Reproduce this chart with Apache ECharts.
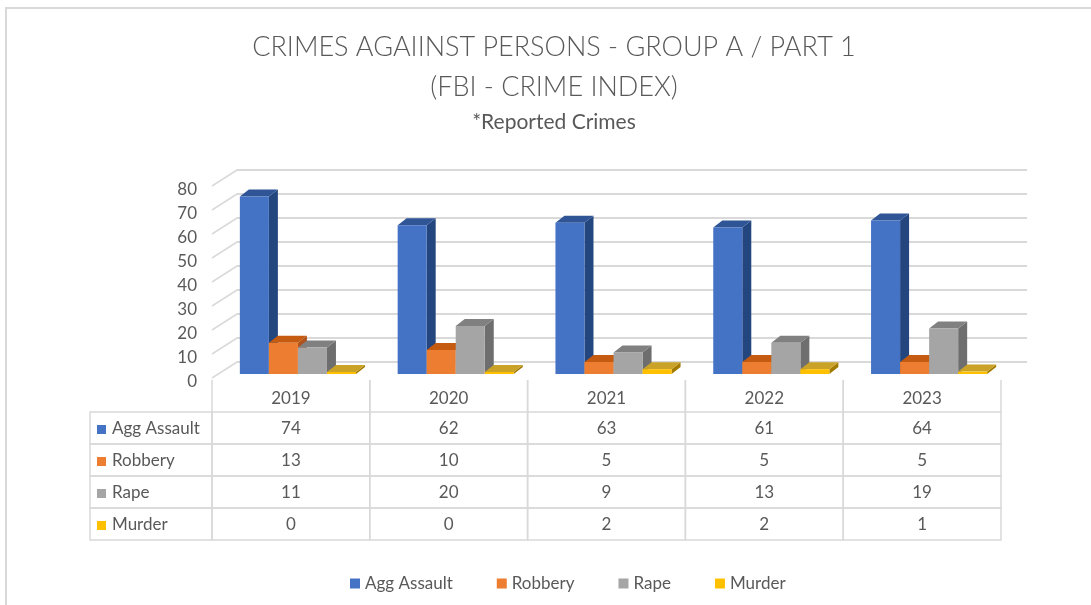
<!DOCTYPE html>
<html>
<head>
<meta charset="utf-8">
<script src="https://cdn.jsdelivr.net/npm/echarts@6/dist/echarts.min.js"></script>
<style>
html,body{margin:0;padding:0;background:#fff;}
#chart{width:1091px;height:605px;}
</style>
</head>
<body>
<div id="chart"></div>
<script>
const years = ['2019', '2020', '2021', '2022', '2023'];
const seriesNames = ['Agg Assault', 'Robbery', 'Rape', 'Murder'];
const aggAssault = [74, 62, 63, 61, 64];
const robbery = [13, 10, 5, 5, 5];
const rape = [11, 20, 9, 13, 19];
const murder = [0, 0, 2, 2, 1];
const yTicks = [0, 10, 20, 30, 40, 50, 60, 70, 80];
const titleLines = ['CRIMES AGAIINST PERSONS - GROUP A / PART 1', '(FBI - CRIME INDEX)'];
const subtitle = '*Reported Crimes';

const seriesValues = [aggAssault, robbery, rape, murder];
const FONT = 'Lato, "Open Sans", sans-serif';
const TXT = '#595959';
const faceColors = [
  { front: '#4472C4', side: '#24467E', top: '#2F5597' },
  { front: '#ED7D31', side: '#B0521A', top: '#C55A11' },
  { front: '#A5A5A5', side: '#6E6E6E', top: '#808080' },
  { front: '#FFC000', side: '#A37B00', top: '#C9A227' }
];
const DX = 9, DY = -7;

const chart = echarts.init(document.getElementById('chart'));

function barRenderer(si) {
  return function (params, api) {
    const c = api.value(0), v = api.value(1);
    const p = api.coord([c, v]);
    const b = api.coord([c, 0]);
    const band = api.size([1, 0])[0];
    const w = band * 0.184;
    const x0 = p[0] - band * 0.5 * 0.735 + band * 0.044 + si * w;
    const x1 = x0 + w;
    const yb = b[1];
    let yt = p[1];
    if (yb - yt < 2) yt = yb - 2;
    const col = faceColors[si];
    return {
      type: 'group',
      children: [
        { type: 'polygon', shape: { points: [[x1, yt], [x1 + DX, yt + DY], [x1 + DX, yb + DY], [x1, yb]] }, style: { fill: col.side } },
        { type: 'polygon', shape: { points: [[x0, yt], [x0 + DX, yt + DY], [x1 + DX, yt + DY], [x1, yt]] }, style: { fill: col.top } },
        { type: 'rect', shape: { x: x0, y: yt, width: w, height: yb - yt }, style: { fill: col.front } }
      ]
    };
  };
}

const barSeries = seriesNames.map((name, si) => ({
  name: name,
  type: 'custom',
  xAxisIndex: 0,
  yAxisIndex: 0,
  itemStyle: { color: faceColors[si].front },
  renderItem: barRenderer(si),
  clip: false,
  data: seriesValues[si].map((v, c) => [c, v]),
  z: 10 + si
}));

const tableData = [];
years.forEach((y, c) => {
  tableData.push([c, 0, y]);
  seriesValues.forEach((arr, si) => tableData.push([c, si + 1, String(arr[c])]));
});
const nameData = seriesNames.map((n, si) => [0, si + 1, n]);
const LINE = '#D9D9D9';

const option = {
  animation: false,
  backgroundColor: '#ffffff',
  title: {
    text: titleLines.join('\n'),
    subtext: subtitle,
    left: 549,
    textAlign: 'center',
    top: 22,
    itemGap: 4,
    textStyle: { fontFamily: FONT, fontSize: 27, fontWeight: 300, color: TXT, lineHeight: 40 },
    subtextStyle: { fontFamily: FONT, fontSize: 21, color: TXT, lineHeight: 22 }
  },
  legend: {
    data: seriesNames,
    left: 345,
    top: 570,
    icon: 'rect',
    itemWidth: 10,
    itemHeight: 10,
    itemGap: 44,
    textStyle: { fontFamily: FONT, fontSize: 17, color: TXT }
  },
  graphic: [
    { type: 'rect', shape: { x: 6, y: 8, width: 1200, height: 800 }, style: { fill: 'none', stroke: '#D9D9D9', lineWidth: 2 }, silent: true }
  ],
  grid: [
    { left: 212, top: 182, width: 789, height: 192 },
    { left: 237, top: 169.5, width: 790, height: 192.5 },
    { left: 212, top: 190, width: 25, height: 192 },
    { left: 212, top: 380, width: 789, height: 160 }
  ],
  xAxis: [
    { gridIndex: 0, type: 'category', data: years, show: false },
    { gridIndex: 1, type: 'value', min: 0, max: 1, show: false },
    { gridIndex: 2, type: 'value', min: 0, max: 1, show: false },
    { gridIndex: 3, type: 'category', data: years, show: false }
  ],
  yAxis: [
    { gridIndex: 0, type: 'value', min: 0, max: 80, interval: 10, show: false },
    { gridIndex: 1, type: 'value', min: 0, max: 80, interval: 10,
      axisLine: { show: false }, axisTick: { show: false }, axisLabel: { show: false },
      splitLine: { show: true, lineStyle: { color: LINE, width: 2 } } },
    { gridIndex: 2, type: 'value', min: 0, max: 80, interval: 10,
      axisLine: { show: false }, axisTick: { show: false }, splitLine: { show: false },
      axisLabel: { show: true, margin: 15, fontFamily: FONT, fontSize: 17, color: TXT } },
    { gridIndex: 3, type: 'category', inverse: true, data: [''].concat(seriesNames), show: false }
  ],
  series: [
    {
      type: 'custom',
      name: 'ticks',
      xAxisIndex: 2,
      yAxisIndex: 2,
      clip: false,
      silent: true,
      data: yTicks.map(v => [0, v]),
      renderItem: function (params, api) {
        const a = api.coord([0, api.value(1)]);
        const b = api.coord([1, api.value(1)]);
        return { type: 'line', shape: { x1: a[0], y1: a[1] - 4, x2: b[0], y2: a[1] - 20 }, style: { stroke: LINE, lineWidth: 1.5 } };
      }
    },
    ...barSeries,
    {
      type: 'custom',
      name: 'table',
      xAxisIndex: 3,
      yAxisIndex: 3,
      clip: false,
      silent: true,
      data: tableData,
      renderItem: function (params, api) {
        const c = api.value(0), r = api.value(1);
        const p = api.coord([c, r]);
        const s = api.size([1, 1]);
        const x0 = p[0] - s[0] / 2, y0 = p[1] - s[1] / 2;
        const txt = tableData[params.dataIndex][2];
        const children = [];
        if (r === 0) {
          children.push({ type: 'line', shape: { x1: x0, y1: y0, x2: x0, y2: y0 + s[1] }, style: { stroke: LINE, lineWidth: 1.5 } });
          children.push({ type: 'line', shape: { x1: x0 + s[0], y1: y0, x2: x0 + s[0], y2: y0 + s[1] }, style: { stroke: LINE, lineWidth: 1.5 } });
        } else {
          children.push({ type: 'rect', shape: { x: x0, y: y0, width: s[0], height: s[1] }, style: { fill: 'none', stroke: LINE, lineWidth: 1.5 } });
        }
        children.push({ type: 'text', style: { x: p[0], y: p[1] + (r === 0 ? 3 : 1), text: txt, align: 'center', verticalAlign: 'middle', font: '17px ' + FONT, fill: TXT } });
        return { type: 'group', children: children };
      }
    },
    {
      type: 'custom',
      name: 'names',
      xAxisIndex: 3,
      yAxisIndex: 3,
      clip: false,
      silent: true,
      data: nameData,
      renderItem: function (params, api) {
        const r = api.value(1);
        const p = api.coord([0, r]);
        const s = api.size([1, 1]);
        const xr = p[0] - s[0] / 2;
        const xl = 90;
        const y0 = p[1] - s[1] / 2;
        const si = r - 1;
        return {
          type: 'group',
          children: [
            { type: 'rect', shape: { x: xl, y: y0, width: xr - xl, height: s[1] }, style: { fill: 'none', stroke: LINE, lineWidth: 1.5 } },
            { type: 'rect', shape: { x: 97, y: p[1] - 3, width: 9, height: 9 }, style: { fill: faceColors[si].front } },
            { type: 'text', style: { x: 112, y: p[1] + 1, text: nameData[si][2], align: 'left', verticalAlign: 'middle', font: '17px ' + FONT, fill: TXT } }
          ]
        };
      }
    }
  ]
};
chart.setOption(option);
</script>
</body>
</html>
